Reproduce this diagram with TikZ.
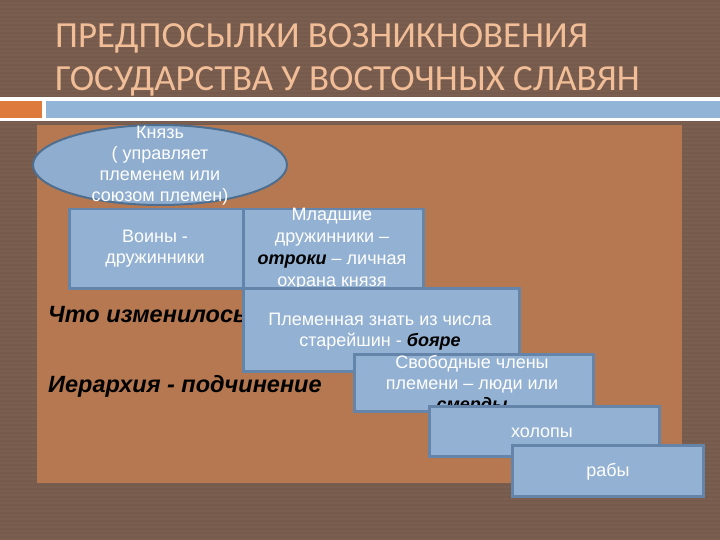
\documentclass[tikz,border=0pt]{standalone}
\usepackage{fontspec}
\usetikzlibrary{shapes.geometric}
\setmainfont{Liberation Sans}
\newfontfamily\titlefont{Carlito}
\definecolor{bgbrown}{HTML}{7A5E50}
\definecolor{bgstripe}{HTML}{765A4C}
\definecolor{cork}{HTML}{B57850}
\definecolor{titlecol}{HTML}{F2BE98}
\definecolor{barorange}{HTML}{DE7A3C}
\definecolor{barblue}{HTML}{92B4D6}
\definecolor{boxfill}{HTML}{93B1D2}
\definecolor{boxedge}{HTML}{6584AA}
\definecolor{ellfill}{HTML}{8FADCF}
\definecolor{elledge}{HTML}{4E6E90}
\tikzset{
  panelbox/.style={draw=boxedge, line width=2.5pt, fill=boxfill, anchor=north west, inner sep=0pt},
  boxtext/.style={text=white, font=\fontsize{18}{21.5}\selectfont, anchor=base, inner sep=0pt},
  qtext/.style={text=black, font=\fontsize{23.5}{26}\selectfont\bfseries\itshape, anchor=base west, inner sep=0pt},
  titletext/.style={text=titlecol, font=\titlefont\fontsize{36.8}{40}\selectfont, anchor=base west, inner sep=0pt},
}
\newcommand{\bi}[1]{\textcolor{black}{\bfseries\itshape #1}}
\begin{document}
\begin{tikzpicture}[x=1pt, y=-1pt]
\useasboundingbox (0,0) rectangle (720,540);
\fill[bgbrown] (0,0) rectangle (720,540);
\foreach \yy in {0,4,...,536} {\fill[bgstripe] (0,\yy) rectangle (720,\yy+2);}
% title
\node[titletext] (title1) at (55,48) {ПРЕДПОСЫЛКИ ВОЗНИКНОВЕНИЯ};
\node[titletext] (title2) at (55,91) {ГОСУДАРСТВА У ВОСТОЧНЫХ СЛАВЯН};
% bar
\fill[white] (0,97) rectangle (720,121);
\fill[barorange] (0,101) rectangle (42,118);
\fill[barblue] (46,101) rectangle (720,118);
% cork panel
\fill[cork] (37,125) rectangle (682,483);
% ellipse
\node[draw=elledge, line width=2pt, fill=ellfill, ellipse, minimum width=254pt, minimum height=80pt] (knyaz) at (160,165) {};
\node[boxtext] (knyazt) at (160,139) {Князь};
\node[boxtext] (knyazt2) at (160,160) {( управляет};
\node[boxtext] (knyazt3) at (160,181) {племенем или};
\node[boxtext] (knyazt4) at (160,202) {союзом племен)};
% voiny
\node[panelbox, minimum width=174pt, minimum height=79pt] (voiny) at (68,208) {};
\node[boxtext] (voinyt1) at (155,242) {Воины -};
\node[boxtext] (voinyt2) at (155,263) {дружинники};
% mladshie
\node[panelbox, minimum width=180pt, minimum height=82pt] (mlad) at (242,208) {};
\node[boxtext] (mladt1) at (332,221) {Младшие};
\node[boxtext] (mladt2) at (332,243) {дружинники –};
\node[boxtext] (mladt3) at (332,264) {\bi{отроки} – личная};
\node[boxtext] (mladt4) at (332,286) {охрана князя};
% questions
\node[qtext] (q1) at (48,322) {Что изменилось?};
\node[qtext] (q2) at (48,392) {Иерархия - подчинение};
% znat
\node[panelbox, minimum width=276pt, minimum height=83pt] (znat) at (242,287) {};
\node[boxtext] (znatt1) at (380,325) {Племенная знать из числа};
\node[boxtext] (znatt2) at (380,346) {старейшин - \bi{бояре}};
% svobodnye
\node[panelbox, minimum width=239pt, minimum height=57pt] (svob) at (353,353) {};
\node[boxtext] (svobt1) at (472,368) {Свободные члены};
\node[boxtext] (svobt2) at (472,389) {племени – люди или};
\node[boxtext] (svobt3) at (472,410) {\bi{смерды}};
% holopy
\node[panelbox, minimum width=230pt, minimum height=50pt] (holop) at (428,405) {};
\node[boxtext] (holopt) at (542,437) {холопы};
% raby
\node[panelbox, minimum width=191pt, minimum height=51pt] (raby) at (511,444) {};
\node[boxtext] (rabyt) at (608,476) {рабы};
\end{tikzpicture}
\end{document}
